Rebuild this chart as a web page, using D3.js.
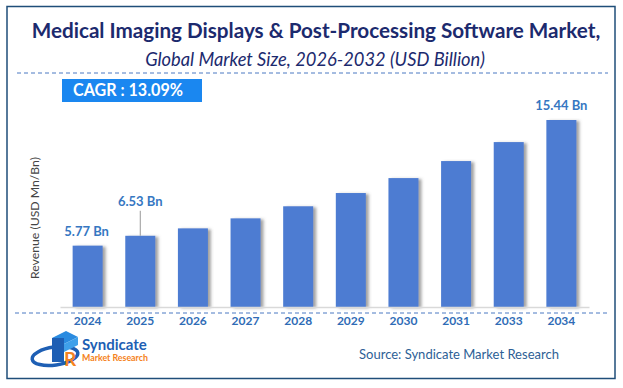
<!DOCTYPE html>
<html>
<head>
<meta charset="utf-8">
<script src="https://cdn.jsdelivr.net/npm/d3@7"></script>
<style>
  body { margin: 0; background: #fff; }
  svg { display: block; font-family: Lato, "Open Sans", sans-serif; }
</style>
</head>
<body>
<svg id="chart" width="623" height="388"></svg>
<script>
var years = ["2024", "2025", "2026", "2027", "2028", "2029", "2030", "2031", "2033", "2034"];
var revenue = [5.77, 6.53, 7.10, 7.87, 8.80, 9.82, 10.97, 12.28, 13.74, 15.44];
var valueLabels = {"2024": "5.77 Bn", "2025": "6.53 Bn", "2034": "15.44 Bn"};
var cagrText = "CAGR :  13.09%";
var titleText = "Medical Imaging Displays & Post-Processing Software Market,";
var subtitleText = "Global Market Size, 2026-2032 (USD Billion)";
var yTitle = "Revenue (USD Mn/Bn)";
var sourceText = "Source: Syndicate Market Research";

var svg = d3.select("#chart");

// fit text to a width by tuning font size
function fitWidth(sel, w) {
  var fs = parseFloat(sel.attr("font-size"));
  var len = sel.node().getComputedTextLength();
  sel.attr("font-size", (fs * w / len).toFixed(2));
}

var defs = svg.append("defs");
var f = defs.append("filter").attr("id", "shadow")
    .attr("x", "-20%").attr("y", "-10%").attr("width", "150%").attr("height", "120%");
f.append("feDropShadow").attr("dx", 3).attr("dy", 1).attr("stdDeviation", 1.6)
    .attr("flood-color", "#555").attr("flood-opacity", 0.55);

// frame
svg.append("rect").attr("x", 7).attr("y", 6.5).attr("width", 608).attr("height", 372)
    .attr("fill", "none").attr("stroke", "#1f4e79").attr("stroke-width", 1.5);

// titles
var t = svg.append("text").attr("x", 316).attr("y", 38).attr("text-anchor", "middle")
    .attr("font-size", 22).attr("font-weight", "bold").attr("fill", "#1c2a6e").text(titleText);
fitWidth(t, 569);
var st = svg.append("text").attr("x", 315).attr("y", 66).attr("text-anchor", "middle")
    .attr("font-size", 17).attr("font-style", "italic").attr("fill", "#1c2a6e").text(subtitleText);
fitWidth(st, 340);

svg.append("line").attr("x1", 17).attr("x2", 608).attr("y1", 73).attr("y2", 73)
    .attr("stroke", "#4a78c2").attr("stroke-dasharray", "4,3");

// CAGR box
svg.append("rect").attr("x", 62).attr("y", 79).attr("width", 140).attr("height", 23).attr("fill", "#1a87f0");
var ct = svg.append("text").attr("x", 73).attr("y", 96).attr("font-size", 15).attr("font-weight", "bold")
    .attr("fill", "#fff").text(cagrText);
fitWidth(ct, 110);

// scales
var yMin = 1.05;
var x = d3.scaleBand().domain(years).range([60, 589]).paddingInner(0.43).paddingOuter(0.24);
var y = d3.scaleLinear().domain([yMin, d3.max(revenue)]).range([307, 120]);

var g = svg.append("g");

g.selectAll("rect.bar")
  .data(years)
  .enter().append("rect")
    .attr("class", "bar")
    .attr("x", function(d) { return x(d); })
    .attr("width", x.bandwidth())
    .attr("y", function(d, i) { return y(revenue[i]); })
    .attr("height", function(d, i) { return y(yMin) - y(revenue[i]); })
    .attr("fill", "#4d7cd2")
    .attr("filter", "url(#shadow)");

// axis
var xAxis = d3.axisBottom(x).tickSize(0).tickPadding(9);
var ax = svg.append("g").attr("transform", "translate(0," + y(yMin) + ")").call(xAxis);
ax.select(".domain").attr("stroke", "#d9d9d9").attr("stroke-width", 1.5);
ax.selectAll("text").attr("font-size", 12).attr("font-weight", "bold").attr("fill", "#2f6cb6")
    .attr("font-family", "Lato, sans-serif");

svg.append("line").attr("x1", 15).attr("x2", 608).attr("y1", 313).attr("y2", 313)
    .attr("stroke", "#4a78c2").attr("stroke-dasharray", "4,3");

// value labels
years.forEach(function(yr, i) {
  if (!valueLabels[yr]) return;
  var cx = x(yr) + x.bandwidth() / 2;
  var ty = y(revenue[i]) - 10;
  if (yr === "2025") {
    ty = y(revenue[i]) - 30;
    svg.append("line").attr("x1", cx).attr("x2", cx).attr("y1", ty + 5).attr("y2", y(revenue[i]))
        .attr("stroke", "#999").attr("stroke-width", 1);
  }
  if (yr === "2024") cx -= 1;
  svg.append("text").attr("x", cx).attr("y", ty).attr("text-anchor", "middle")
      .attr("font-size", 13).attr("font-weight", "bold").attr("fill", "#3677c2").text(valueLabels[yr]);
});

// y title
var yt = svg.append("text").attr("transform", "translate(39,218) rotate(-90)").attr("text-anchor", "middle")
    .attr("font-size", 11).attr("fill", "#444").text(yTitle);
fitWidth(yt, 122);

// source
var so = svg.append("text").attr("x", 359).attr("y", 359).attr("font-size", 13)
    .attr("fill", "#2e5f96").text(sourceText);
fitWidth(so, 200);

// logo
var lg = svg.append("g");
lg.append("ellipse").attr("cx", 55).attr("cy", 356).attr("rx", 23).attr("ry", 9)
    .attr("fill", "none").attr("stroke", "#1e5fb4").attr("stroke-width", 3.5)
    .attr("transform", "rotate(-8,55,356)");
lg.append("path").attr("d", "M52,338 l14,-7 l12,6 l-14,7 z").attr("fill", "#2a8be0");
lg.append("rect").attr("x", 52).attr("y", 338).attr("width", 12).attr("height", 24).attr("fill", "#1e5fb4");
lg.append("path").attr("d", "M64,344 l14,-7 v8 l-14,7 z").attr("fill", "#3fa0ea");
lg.append("text").attr("x", 64).attr("y", 366).attr("font-size", 19).attr("font-weight", "bold")
    .attr("fill", "#f58220").text("R");
lg.append("text").attr("x", 82).attr("y", 350).attr("font-size", 15).attr("font-weight", "bold")
    .attr("fill", "#1e5fb4").text("Syndicate");
var mr = lg.append("text").attr("x", 82).attr("y", 361).attr("font-size", 10).attr("font-weight", "bold")
    .attr("fill", "#f58220").text("Market Research");
fitWidth(mr, 66);
</script>
</body>
</html>
